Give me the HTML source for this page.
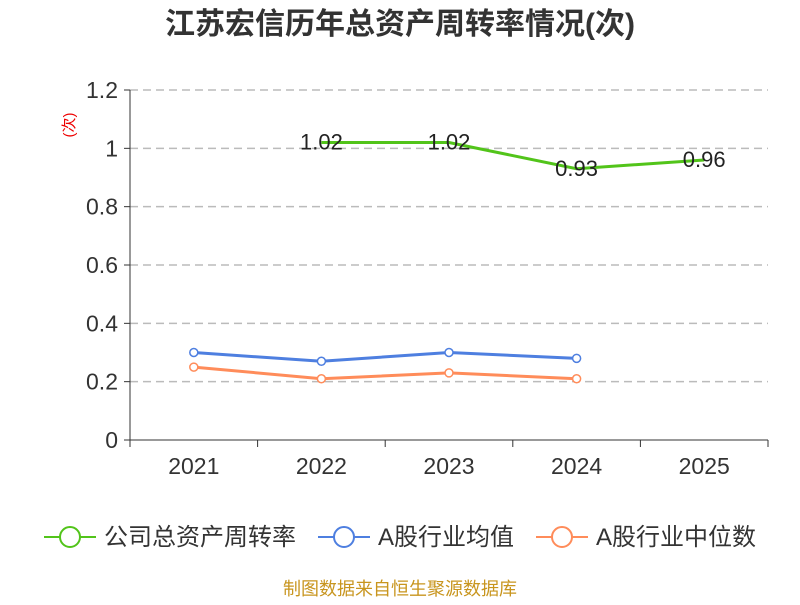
<!DOCTYPE html>
<html><head><meta charset="utf-8"><style>
body{margin:0;background:#fff;}
svg text{font-family:"Liberation Sans","Noto Sans CJK SC",sans-serif;}
</style></head><body>
<svg id="chart" width="800" height="600">
<text x="400" y="34" text-anchor="middle" font-size="30" font-weight="bold" fill="#333">江苏宏信历年总资产周转率情况(次)</text>
<text transform="translate(74,125) rotate(-90)" text-anchor="middle" font-size="15" fill="#e00">(次)</text>
<g id="grid"></g><g id="axes"></g><g id="series"></g>
<g font-size="24" fill="#333">
<g><line x1="44" y1="537" x2="96" y2="537" stroke="#52c41a" stroke-width="2"/><circle cx="70" cy="537" r="10" fill="#fff" stroke="#52c41a" stroke-width="2"/><text x="104" y="545">公司总资产周转率</text></g>
<g><line x1="318" y1="537" x2="370" y2="537" stroke="#4e7fe0" stroke-width="2"/><circle cx="344" cy="537" r="10" fill="#fff" stroke="#4e7fe0" stroke-width="2"/><text x="378" y="545">A股行业均值</text></g>
<g><line x1="536" y1="537" x2="588" y2="537" stroke="#ff8c5a" stroke-width="2"/><circle cx="562" cy="537" r="10" fill="#fff" stroke="#ff8c5a" stroke-width="2"/><text x="596" y="545">A股行业中位数</text></g>
</g>
<text x="400" y="595" text-anchor="middle" font-size="18" fill="#c8951e">制图数据来自恒生聚源数据库</text>
</svg>
<script>
const categories=["2021","2022","2023","2024","2025"];
const yTicks=[0,0.2,0.4,0.6,0.8,1,1.2];
const yTickLabels=["0","0.2","0.4","0.6","0.8","1","1.2"];
const companyValues=[null,1.02,1.02,0.93,0.96];
const companyLabels=[null,"1.02","1.02","0.93","0.96"];
const avgValues=[0.30,0.27,0.30,0.28,null];
const medianValues=[0.25,0.21,0.23,0.21,null];
const NS="http://www.w3.org/2000/svg";
const x0=130,x1=768,yb=440,yt=90,ymax=1.2;
const bw=(x1-x0)/categories.length;
const X=i=>x0+bw*(i+0.5);
const Y=v=>yb-(v/ymax)*(yb-yt);
function mk(tag,attrs,parent){const e=document.createElementNS(NS,tag);for(const k in attrs)e.setAttribute(k,attrs[k]);parent.appendChild(e);return e;}
const grid=document.getElementById('grid'),axes=document.getElementById('axes'),ser=document.getElementById('series');
yTicks.forEach((t,i)=>{
  if(t>0){const l=mk('line',{x1:x0,x2:x1,y1:Y(t),y2:Y(t),stroke:'#bbb','stroke-width':1.5,'stroke-dasharray':'8,5'},grid);
  
  }
  const tk=mk('line',{x1:x0-6,x2:x0,y1:Y(t),y2:Y(t),stroke:'#333'},axes);
  
  
  const tx=mk('text',{x:x0-12,y:Y(t)+8,'text-anchor':'end','font-size':23,fill:'#333'},axes);
  tx.textContent=yTickLabels[i];
  
  
});
const ya=mk('line',{x1:x0,x2:x0,y1:yt,y2:yb,stroke:'#333'},axes);


const xa=mk('line',{x1:x0,x2:x1,y1:yb,y2:yb,stroke:'#333'},axes);


for(let i=0;i<=categories.length;i++){const t=mk('line',{x1:x0+bw*i,x2:x0+bw*i,y1:yb,y2:yb+7,stroke:'#333'},axes);
  
  }
categories.forEach((c,i)=>{const t=mk('text',{x:X(i),y:yb+34,'text-anchor':'middle','font-size':23,fill:'#333'},axes);t.textContent=c;
  
  });
function line(vals,color,name,dots){
  const pts=[];vals.forEach((v,i)=>{if(v!=null)pts.push([X(i),Y(v)]);});
  const p=mk('polyline',{points:pts.map(p=>p.join(',')).join(' '),fill:'none',stroke:color,'stroke-width':3},ser);
  
  
  if(dots)pts.forEach(q=>{const c=mk('circle',{cx:q[0],cy:q[1],r:4,fill:'#fff',stroke:color,'stroke-width':1.5},ser);
    
    });
}
line(companyValues,'#52c41a','company',false);
line(avgValues,'#4e7fe0','industry-average',true);
line(medianValues,'#ff8c5a','industry-median',true);
companyValues.forEach((v,i)=>{if(v==null)return;const t=mk('text',{x:X(i),y:Y(v)+7,'text-anchor':'middle','font-size':22,fill:'#222'},ser);t.textContent=companyLabels[i];
  
  });
</script>
</body></html>
